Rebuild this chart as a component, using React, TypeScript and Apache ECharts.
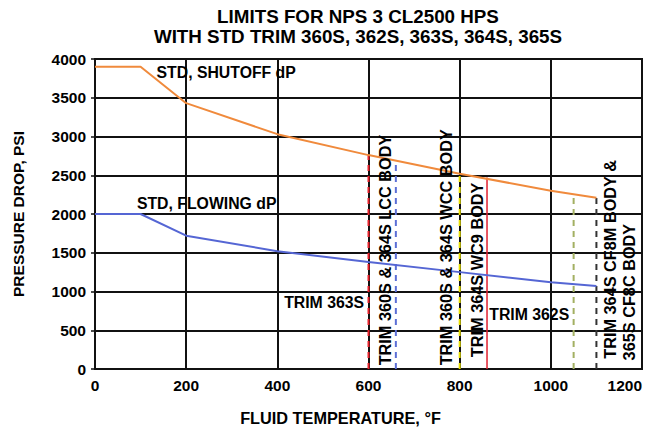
import React, { useEffect, useRef } from "react";
import * as echarts from "echarts";

// Curve data (fluid temperature, °F -> pressure drop, psi)
const temps = [0, 100, 200, 400, 600, 800, 1000, 1100];
const shutoffDp = [3900, 3900, 3430, 3030, 2760, 2520, 2300, 2210];
const flowingDp = [2000, 2000, 1720, 1520, 1380, 1250, 1120, 1070];

// Temperature limit markers
const markerTemps = [600, 660, 800, 860, 1050, 1100];
const markerTops = [2760, 2660, 2520, 2470, 2255, 2210];

// Axis ticks
const xTicks = [0, 200, 400, 600, 800, 1000, 1200];
const yTicks = [0, 500, 1000, 1500, 2000, 2500, 3000, 3500, 4000];

// Annotations (data coordinates)
const noteTexts = ["STD, SHUTOFF dP", "STD, FLOWING dP", "TRIM 363S", "TRIM 362S"];
const noteTemps = [135, 92, 415, 865];
const noteDps = [3830, 2130, 862, 697];

const sideTexts = [
  "TRIM 360S & 364S LCC BODY",
  "TRIM 360S & 364S WCC BODY",
  "TRIM 364S WC9 BODY",
  "TRIM 364S CF8M BODY &",
  "365S CF8C BODY",
];
const sideTemps = [636, 771, 839, 1130, 1171];
const sideDps = [47, 47, 153, 132, 111];

const FONT = "Liberation Sans, Arial, sans-serif";
const markerStyles = [
  { color: "#e8202a", type: [6, 5], width: 2 },
  { color: "#5b6fd6", type: [6, 5], width: 2 },
  { color: "#e8e000", type: [6, 5], width: 2 },
  { color: "#e02030", type: "solid", width: 1.5 },
  { color: "#a3b062", type: [6, 5], width: 2 },
  { color: "#333333", type: [6, 5], width: 2 },
];

export default function App() {
  const ref = useRef<HTMLDivElement>(null);
  useEffect(() => {
    if (!ref.current) return;
    const chart = echarts.init(ref.current, null, { renderer: "svg" });
    const markerSeries = markerTemps.map((t, i) => ({
      type: "line",
      data: [
        [t, 0],
        [t, markerTops[i]],
      ],
      symbol: "none",
      silent: true,
      z: 3,
      lineStyle: markerStyles[i],
    }));
    const labelStyle = {
      fontFamily: FONT,
      fontWeight: "bold",
      fontSize: 15.5,
      color: "#000",
    };
    const option: any = {
      animation: false,
      backgroundColor: "#ffffff",
      title: {
        text: "LIMITS FOR NPS 3 CL2500 HPS\nWITH STD TRIM 360S, 362S, 363S, 364S, 365S",
        left: 353,
        top: 1,
        textAlign: "center",
        textStyle: {
          fontFamily: FONT,
          fontWeight: "bold",
          fontSize: 18.8,
          lineHeight: 20.5,
          color: "#000",
        },
      },
      grid: {
        left: 95,
        right: 9,
        top: 59,
        bottom: 59,
        show: true,
        borderColor: "#111",
        borderWidth: 2,
      },
      xAxis: {
        type: "value",
        min: xTicks[0],
        max: xTicks[xTicks.length - 1],
        interval: xTicks[1] - xTicks[0],
        name: "FLUID TEMPERATURE, °F",
        nameLocation: "middle",
        nameGap: 41,
        nameTextStyle: {
          ...labelStyle,
          fontSize: 16.3,
          padding: [0, 56, 0, 0],
        },
        axisLine: { lineStyle: { color: "#111", width: 2 } },
        axisTick: { show: false },
        axisLabel: {
          ...labelStyle,
          margin: 8,
          alignMaxLabel: "right",
          formatter: (v: number) => String(v),
        },
        splitLine: { show: true, lineStyle: { color: "#111", width: 2 } },
      },
      yAxis: {
        type: "value",
        min: yTicks[0],
        max: yTicks[yTicks.length - 1],
        interval: yTicks[1] - yTicks[0],
        name: "PRESSURE DROP, PSI",
        nameLocation: "middle",
        nameRotate: 90,
        nameGap: 69,
        nameTextStyle: { ...labelStyle },
        axisLine: { show: true, lineStyle: { color: "#111", width: 2 } },
        axisTick: { show: true, length: 4, lineStyle: { color: "#111", width: 1.5 } },
        axisLabel: {
          ...labelStyle,
          margin: 9,
          formatter: (v: number) => String(v),
        },
        splitLine: { show: true, lineStyle: { color: "#111", width: 2 } },
      },
      series: [
        ...markerSeries,
        {
          type: "line",
          name: "STD, SHUTOFF dP",
          data: temps.map((t, i) => [t, shutoffDp[i]]),
          symbol: "none",
          z: 5,
          lineStyle: { color: "#f08a3c", width: 2 },
        },
        {
          type: "line",
          name: "STD, FLOWING dP",
          data: temps.map((t, i) => [t, flowingDp[i]]),
          symbol: "none",
          z: 5,
          lineStyle: { color: "#5566d4", width: 2 },
        },
      ],
    };
    chart.setOption(option);

    const textStyle = (txt: string, size: number) => ({
      text: txt,
      fill: "#000",
      fontFamily: FONT,
      fontWeight: "bold",
      fontSize: size,
      align: "left",
      verticalAlign: "middle",
    });
    const graphics: any[] = [];
    noteTexts.forEach((txt, i) => {
      const [px, py] = chart.convertToPixel({ gridIndex: 0 }, [noteTemps[i], noteDps[i]]);
      graphics.push({ type: "text", x: px, y: py, z: 10, style: textStyle(txt, 15.8) });
    });
    sideTexts.forEach((txt, i) => {
      const [px, py] = chart.convertToPixel({ gridIndex: 0 }, [sideTemps[i], sideDps[i]]);
      graphics.push({
        type: "text",
        x: px,
        y: py,
        rotation: Math.PI / 2,
        z: 10,
        style: textStyle(txt, 16.3),
      });
    });
    chart.setOption({ graphic: graphics });

    return () => chart.dispose();
  }, []);
  return (
    <div
      ref={ref}
      style={{ position: "fixed", left: 0, top: 0, width: 651, height: 431 }}
    />
  );
}
